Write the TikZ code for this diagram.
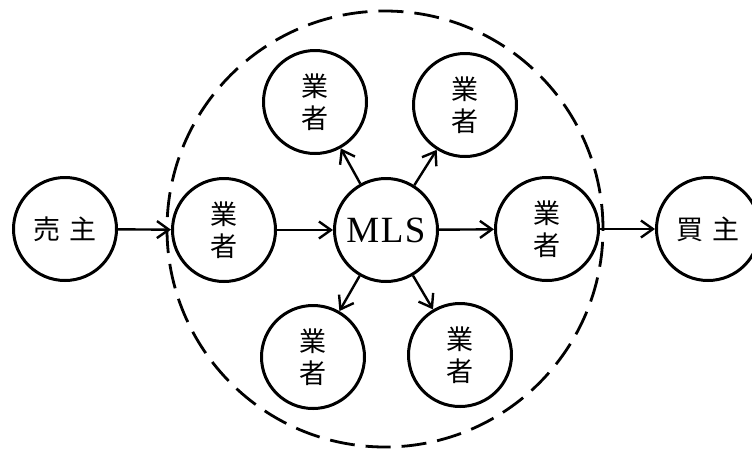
\documentclass[tikz,border=0pt]{standalone}
\usepackage{fontspec}
\setmainfont{Liberation Serif}
\newfontfamily\jpfont{Noto Sans CJK JP}
\usetikzlibrary{arrows.meta}

\begin{document}
\begin{tikzpicture}[x=1pt,y=-1pt,
  party/.style={circle, draw, line width=3pt, minimum size=103pt,
    inner sep=0pt, align=center,
    font=\jpfont\fontsize{27}{32}\selectfont},
  hub/.style={party, font=\fontsize{37}{40}\selectfont},
  flow/.style={line width=2.4pt,
    -{Straight Barb[length=12pt,width=17pt,line width=2.4pt]}},
  market/.style={circle, draw, line width=2.8pt,
    dash pattern=on 25pt off 11pt, minimum size=436pt, inner sep=0pt}
]
\useasboundingbox (0,0) rectangle (752,451);

% the dealers' network boundary
\node[market] (net) at (385,229) {};

% parties in the chain
\node[party] (seller)  at (65,229)  {売\hspace{9pt}主};
\node[party] (brokerL) at (224,230) {業\\者};
\node[hub]   (mls)     at (386,230) {M\hspace{1.5pt}L\hspace{1.5pt}S};
\node[party] (brokerR) at (547,229) {業\\者};
\node[party] (buyer)   at (708,229) {買\hspace{9pt}主};

% dealers linked to the MLS
\node[party] (dTL) at (315,102) {業\\者};
\node[party] (dTR) at (465,105) {業\\者};
\node[party] (dBL) at (313,357) {業\\者};
\node[party] (dBR) at (460,355) {業\\者};

% listing flow
\draw[flow] (seller)  -- (brokerL);
\draw[flow] (brokerL) -- (mls);
\draw[flow] (mls)     -- (brokerR);
\draw[flow] (brokerR) -- (buyer);

% MLS distribution to the other dealers
\draw[flow] (mls) -- (dTL);
\draw[flow] (mls) -- (dTR);
\draw[flow] (mls) -- (dBL);
\draw[flow] (mls) -- (dBR);
\end{tikzpicture}
\end{document}
